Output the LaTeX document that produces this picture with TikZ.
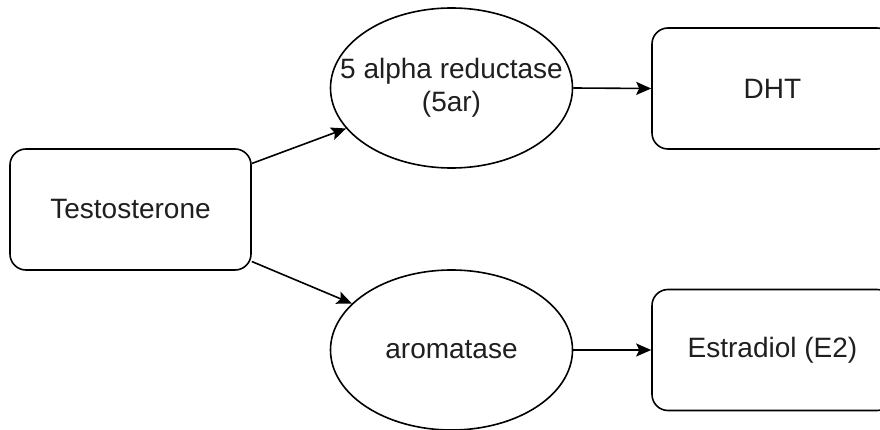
\documentclass[tikz,border=0pt]{standalone}
\usepackage{fontspec}
\setmainfont{Liberation Sans}
\usetikzlibrary{shapes.geometric,arrows.meta,calc}
\begin{document}
\begin{tikzpicture}[x=1pt,y=-1pt,
  every node/.style={font=\fontsize{28}{33}\selectfont, text=black!88, align=center, inner sep=0pt},
  rbox/.style={draw, line width=1.6pt, rounded corners=16pt, minimum width=241pt, minimum height=121pt},
  ell/.style={draw, line width=1.6pt, ellipse, minimum width=242pt, minimum height=160pt, inner xsep=-30pt},
  arr/.style={line width=1.6pt, -{Stealth[length=15pt,width=13pt,inset=3pt]}}]
\clip (0,0) rectangle (880,430);
\fill[white] (0,0) rectangle (880,430);
\node[rbox] (t) at (130.5,209.5) {Testosterone};
\node[ell] (e1) at (451.5,88) {5 alpha reductase\\(5ar)};
\node[ell] (e2) at (451.5,350) {aromatase};
\node[rbox] (d) at (772.5,88.5) {DHT};
\node[rbox] (s) at (772.5,350) {Estradiol (E2)};
\draw[arr] ($(t.east)+(0,-46)$) -- (e1.201);
\draw[arr] ($(t.east)+(0,52)$) -- (e2.155);
\draw[arr] (e1.east) -- (d.west);
\draw[arr] (e2.east) -- (s.west);
\end{tikzpicture}
\end{document}
